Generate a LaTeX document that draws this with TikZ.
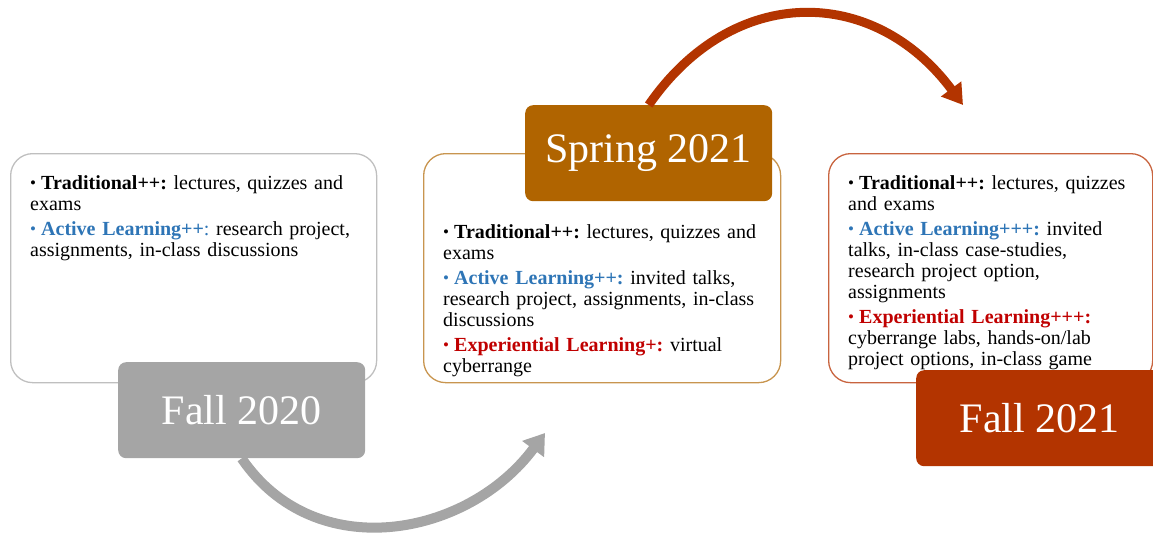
\documentclass[tikz,border=0pt]{standalone}
\usepackage{fontspec}
\setmainfont{Liberation Serif}
\usetikzlibrary{arrows.meta}

\definecolor{labgray}{HTML}{A5A5A5}
\definecolor{springfill}{HTML}{B06400}
\definecolor{fallfill}{HTML}{B33400}
\definecolor{graybord}{HTML}{BFBFBF}
\definecolor{springbord}{HTML}{C8954F}
\definecolor{fallbord}{HTML}{C8643F}
\definecolor{actblue}{HTML}{2E75B6}
\definecolor{expred}{HTML}{C00000}

% one bullet point: bullet colour, bold heading, rest of the text
\newcommand\bitem[3]{\hangindent=11pt\hangafter=1\noindent
  \makebox[11pt][l]{\color{#1}\raisebox{0.8pt}{\fontsize{17}{17}\selectfont\textbullet}}%
  {\color{#1}\bfseries #2}#3\par}

\tikzset{
  panel/.style={draw, line width=1.3pt, rounded corners=22pt, anchor=north west,
    inner sep=0pt, minimum height=229pt},
  tag/.style={anchor=north west, rounded corners=8pt, inner sep=0pt,
    minimum width=247pt, minimum height=96pt, text=white,
    font=\fontsize{42}{42}\selectfont},
  items/.style={anchor=base west, inner sep=0pt, text width=#1, align=left,
    font=\fontsize{20}{21}\selectfont\frenchspacing},
  grayarrow/.style={draw=labgray, line width=10pt,
    -{Triangle[length=20pt,width=26pt]}},
  redarrow/.style={draw=fallfill, line width=9pt,
    -{Triangle[length=20pt,width=24pt]}}
}

\begin{document}
\begin{tikzpicture}[x=1pt,y=-1pt]
  \useasboundingbox (0,0) rectangle (1153,535);
  \clip (0,0) rectangle (1153,535);

  % content panels
  \node[panel, draw=graybord, minimum width=366pt] (p1) at (10,153) {};
  \node[panel, draw=springbord, minimum width=357pt] (p2) at (423,153) {};
  \node[panel, draw=fallbord, minimum width=324pt] (p3) at (828,153) {};

  % term labels
  \node[tag, fill=labgray] (f20) at (118,362) {Fall 2020};
  \node[tag, fill=springfill] (s21) at (525,105) {Spring 2021};
  \node[tag, fill=fallfill] (f21) at (916,370) {Fall 2021};

  % panel texts
  \node[items=340pt] (t1) at (30,189) {\setlength\parskip{4pt}%
    \bitem{black}{Traditional++:}{ lectures, quizzes and\\ exams}%
    \bitem{actblue}{Active Learning++}{{\color{actblue}:} research project,\\ assignments, in-class discussions}};

  \node[items=335pt] (t2) at (443,238) {\setlength\parskip{4pt}%
    \bitem{black}{Traditional++:}{ lectures, quizzes and\\ exams}%
    \bitem{actblue}{Active Learning++:}{ invited talks,\\ research project, assignments, in-class\\ discussions}%
    \bitem{expred}{Experiential Learning+:}{ virtual\\ cyberrange}};

  \node[items=300pt] (t3) at (848,189) {\setlength\parskip{4pt}%
    \bitem{black}{Traditional++:}{ lectures, quizzes\\ and exams}%
    \bitem{actblue}{Active Learning+++:}{ invited\\ talks, in-class case-studies,\\ research project option,\\ assignments}%
    \bitem{expred}{Experiential Learning+++:}{\\ cyberrange labs, hands-on/lab\\ project options, in-class game}};

  % transitions between terms
  \coordinate (ga) at (545,433);
  \coordinate (ra) at (963,105);
  \draw[grayarrow] (f20.south) .. controls (315,566) and (468,537) .. (ga);
  \draw[redarrow] (s21.north) .. controls (733,-17) and (874,-15) .. (ra);
\end{tikzpicture}
\end{document}
